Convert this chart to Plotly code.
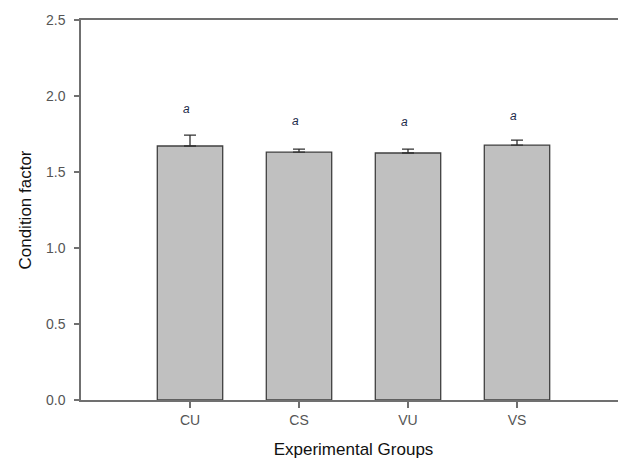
import plotly.graph_objects as go

groups = ["CU", "CS", "VU", "VS"]
means = [1.671, 1.631, 1.625, 1.677]
errors = [0.072, 0.020, 0.026, 0.033]
sig_letters = ["a", "a", "a", "a"]
letter_heights = [1.917, 1.838, 1.831, 1.866]
y_ticks = [0.0, 0.5, 1.0, 1.5, 2.0, 2.5]

FONT = "Liberation Sans, Arial, sans-serif"
AXIS_COLOR = "#707070"

fig = go.Figure()
fig.add_trace(go.Bar(
    x=groups, y=means, width=0.6,
    marker=dict(color="#c0c0c0", line=dict(color="#404040", width=1.3)),
    error_y=dict(type="data", array=errors, arrayminus=[0] * len(errors),
                 symmetric=False, color="#303030", thickness=1.3, width=6),
    showlegend=False, hoverinfo="skip",
))

for g, letter, h in zip(groups, sig_letters, letter_heights):
    fig.add_annotation(x=g, y=h, text="<i>" + letter + "</i>", showarrow=False,
                       xshift=-4, font=dict(family=FONT, size=12, color="#1c2a4a"))

fig.add_shape(type="line", xref="paper", yref="paper", x0=0.998, x1=0.998, y0=0, y1=1,
              line=dict(color="#dddddd", width=1))

fig.update_layout(
    width=626, height=460,
    margin=dict(l=73, r=8, t=12, b=68),
    paper_bgcolor="white", plot_bgcolor="white",
    font=dict(family=FONT),
    bargap=0.4,
    xaxis=dict(
        type="category", categoryorder="array", categoryarray=groups,
        range=[-1, 4], showline=True, linecolor=AXIS_COLOR, linewidth=1.5,
        mirror=True, ticks="outside", ticklen=6, tickcolor=AXIS_COLOR, tickwidth=1.5,
        showgrid=False, zeroline=False, automargin=False,
        tickfont=dict(size=14, color="#555555", family=FONT),
        title=dict(text="Experimental Groups", font=dict(size=17, color="#111111", family=FONT),
                   standoff=17),
    ),
    yaxis=dict(
        range=[0, 2.5], tickvals=y_ticks, ticktext=[f"{v:.1f}" for v in y_ticks],
        showline=True, linecolor=AXIS_COLOR, linewidth=1.5,
        ticks="outside", ticklen=5, tickcolor=AXIS_COLOR, tickwidth=1.5,
        showgrid=False, zeroline=False, automargin=False, ticklabelstandoff=6,
        tickfont=dict(size=14, color="#555555", family=FONT),
        title=dict(text="Condition factor", font=dict(size=17, color="#111111", family=FONT),
                   standoff=10),
    ),
)

fig.write_html("out.html")
